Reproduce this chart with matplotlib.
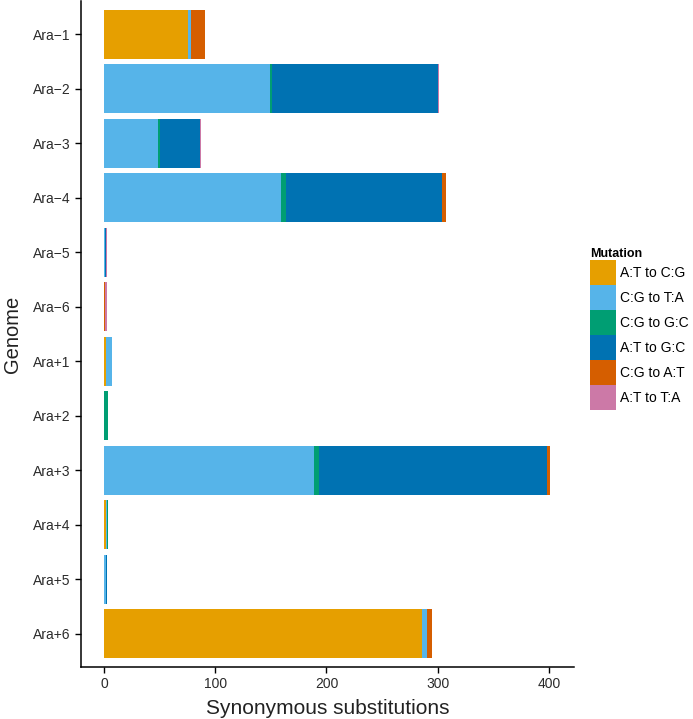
import numpy as np
import matplotlib
matplotlib.use("Agg")
import matplotlib.pyplot as plt
from matplotlib.patches import Patch

plt.rcParams['font.family'] = ['Liberation Sans', 'DejaVu Sans']

genomes = ["Ara\u22121", "Ara\u22122", "Ara\u22123", "Ara\u22124", "Ara\u22125", "Ara\u22126",
           "Ara+1", "Ara+2", "Ara+3", "Ara+4", "Ara+5", "Ara+6"]

mutations = ["A:T to C:G", "C:G to T:A", "C:G to G:C", "A:T to G:C", "C:G to A:T", "A:T to T:A"]
colors = ["#E69F00", "#56B4E9", "#009E73", "#0072B2", "#D55E00", "#CC79A7"]

# counts per genome, one list per mutation type
at_cg = [76, 0, 0, 0, 0, 0, 2, 0, 0, 2, 0, 286]
cg_ta = [2, 149, 49, 159, 1, 0, 5, 0, 189, 1, 2, 4]
cg_gc = [0, 2, 1, 5, 0, 0, 0, 4, 4, 1, 0, 0]
at_gc = [0, 149, 36, 140, 1, 0, 0, 0, 205, 0, 1, 0]
cg_at = [13, 0, 0, 3, 0, 1, 0, 0, 3, 0, 0, 5]
at_ta = [0, 1, 1, 0, 1, 2, 0, 0, 0, 0, 0, 0]

series = [at_cg, cg_ta, cg_gc, at_gc, cg_at, at_ta]

fig = plt.figure(figsize=(6.93, 7.19), dpi=100)
ax = fig.add_axes([0.117, 0.073, 0.711, 0.925])

y = np.arange(len(genomes))
left = np.zeros(len(genomes))
for vals, col, lab in zip(series, colors, mutations):
    vals = np.array(vals, dtype=float)
    ax.barh(y, vals, left=left, height=0.9, color=col, label=lab, linewidth=0)
    left += vals

ax.set_ylim(len(genomes) - 0.4, -0.6)
ax.set_xlim(-20.5, 422.2)
ax.set_yticks(y)
ax.set_yticklabels(genomes)
ax.set_xticks([0, 100, 200, 300, 400])
ax.tick_params(axis='both', labelsize=10, length=4, width=1, color='black', labelcolor='#2b2b2b')

for s in ['top', 'right']:
    ax.spines[s].set_visible(False)
for s in ['left', 'bottom']:
    ax.spines[s].set_linewidth(1.1)

ax.set_xlabel("Synonymous substitutions", fontsize=15, color='#222222', labelpad=6)
ax.set_ylabel("Genome", fontsize=14.5, color='#222222', labelpad=8)

handles = [Patch(facecolor=c, edgecolor='none') for c in colors]
leg = fig.legend(handles, mutations, title="Mutation", loc='upper left',
                 bbox_to_anchor=(0.852, 0.655), frameon=False, fontsize=10,
                 handlelength=1.87, handleheight=2.39, labelspacing=0,
                 handletextpad=0.25, borderaxespad=0, borderpad=0)
leg.get_title().set_fontweight('bold')
leg.get_title().set_fontsize(9)
leg._legend_box.align = "left"

fig.savefig("out.png", dpi=100)
